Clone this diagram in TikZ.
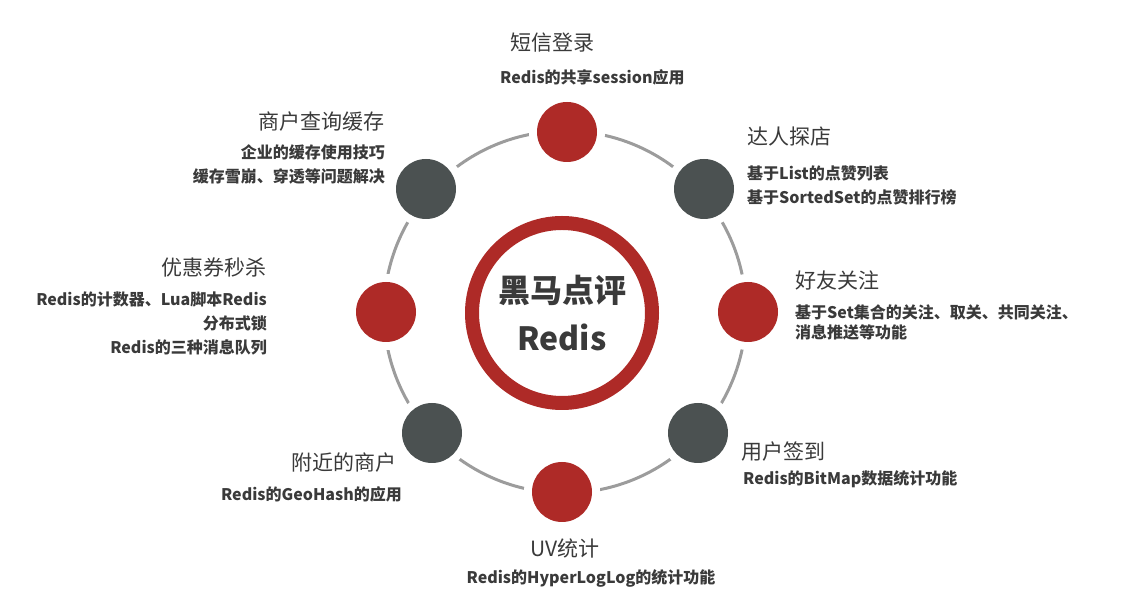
\documentclass[tikz,border=0pt]{standalone}
\usepackage{fontspec}
\newfontfamily\cjk{Noto Sans CJK SC}
\definecolor{hmred}{HTML}{AE2A27}
\definecolor{hmgray}{HTML}{4B5151}
\definecolor{hmtext}{HTML}{3A3A3A}
\definecolor{hmorbit}{HTML}{9C9C9C}

\begin{document}
\begin{tikzpicture}[x=1pt,y=1pt,
    spot/.style={circle,minimum size=60pt,inner sep=0pt,preaction={draw=white,line width=16pt}},
    redspot/.style={spot,fill=hmred},
    grayspot/.style={spot,fill=hmgray},
    title/.style={font=\cjk\fontsize{21}{24}\selectfont,text=hmtext,inner sep=0pt},
    desc/.style={font=\cjk\bfseries\fontsize{16}{24}\selectfont,text=hmtext,inner sep=0pt}]

  \useasboundingbox (0,0) rectangle (1122,601);

  \coordinate (hub) at (565,289);
  \draw[hmorbit,line width=3pt] (hub) circle (181);

  \node[redspot]  (login)   at (567,469) {};
  \node[grayspot] (explore) at (704,412) {};
  \node[redspot]  (follow)  at (748,289) {};
  \node[grayspot] (sign)    at (698,168) {};
  \node[redspot]  (uv)      at (562,109) {};
  \node[grayspot] (nearby)  at (432,168) {};
  \node[redspot]  (seckill) at (386,289) {};
  \node[grayspot] (cache)   at (426,412) {};

  \node[circle,draw=hmred,line width=14pt,minimum size=180pt] (redis) at (562,288) {};
  \node[align=center,text=hmtext,font=\cjk\bfseries\fontsize{32}{48}\selectfont] at (redis) {黑马点评\\Redis};

  \begin{scope}[every node/.append style={anchor=west}]
    \node[title] (logintitle)   at (510,558) {短信登录};
    \node[desc]  (logindesc)    at (500,524) {Redis的共享session应用};
    \node[title] (exploretitle) at (747,464) {达人探店};
    \node[desc,align=left] (exploredesc) at (747,416) {基于List的点赞列表\\基于SortedSet的点赞排行榜};
    \node[title] (followtitle)  at (795,321) {好友关注};
    \node[desc,align=left] (followdesc) at (795,279) {基于Set集合的关注、取关、共同关注、\\[-4pt]消息推送等功能};
    \node[title] (signtitle)    at (741,149) {用户签到};
    \node[desc]  (signdesc)     at (743,122) {Redis的BitMap数据统计功能};
  \end{scope}

  \begin{scope}[every node/.append style={anchor=east}]
    \node[title] (cachetitle)   at (385,479) {商户查询缓存};
    \node[desc,align=right] (cachedesc) at (385,436.5) {企业的缓存使用技巧\\缓存雪崩、穿透等问题解决};
    \node[title] (seckilltitle) at (267,334) {优惠券秒杀};
    \node[desc,align=right] (seckilldesc) at (267,277) {Redis的计数器、Lua脚本Redis\\分布式锁\\Redis的三种消息队列};
    \node[title] (nearbytitle)  at (397,138) {附近的商户};
    \node[desc]  (nearbydesc)   at (402,107) {Redis的GeoHash的应用};
  \end{scope}

  \node[title] (uvtitle) at (565,53) {UV统计};
  \node[desc]  (uvdesc)  at (591,23) {Redis的HyperLogLog的统计功能};

\end{tikzpicture}
\end{document}
